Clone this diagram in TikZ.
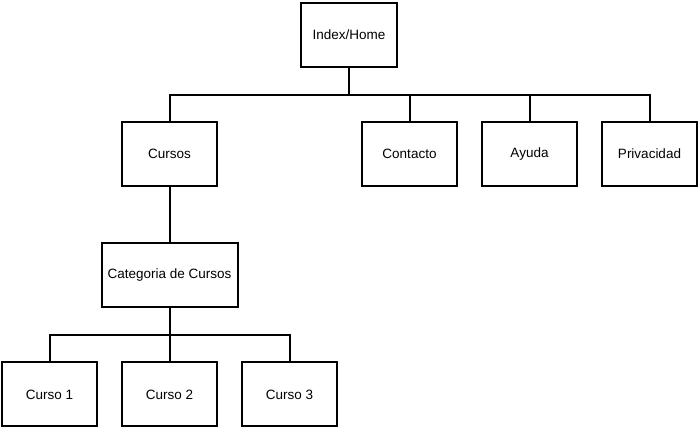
\documentclass[tikz,border=0pt]{standalone}
\usepackage{fontspec}
\setmainfont{Liberation Sans}
\begin{document}
\begin{tikzpicture}[x=1pt,y=1pt,
    pagebox/.style={draw=black, line width=2pt, minimum width=95pt, minimum height=64pt, font=\fontsize{13.5}{15}\selectfont, inner sep=0pt},
    link/.style={line width=2pt}]
      \useasboundingbox (0,0) rectangle (700,430);
      % nodes
      \node[pagebox, minimum width=96pt] (home) at (349,395) {Index/Home};
      \node[pagebox] (cursos) at (169.5,276) {Cursos};
      \node[pagebox] (contacto) at (409.5,276) {Contacto};
      \node[pagebox] (ayuda) at (529.5,276) {Ayuda};
      \node[pagebox] (privacidad) at (649.5,276) {Privacidad};
      \node[pagebox, minimum width=136pt] (categoria) at (169.5,155) {Categoria de Cursos};
      \node[pagebox] (curso1) at (49.5,35.5) {Curso 1};
      \node[pagebox] (curso2) at (169.5,35.5) {Curso 2};
      \node[pagebox] (curso3) at (289.5,35.5) {Curso 3};
      % connectors
      \coordinate (bartop) at (349,335);
      \coordinate (barlow) at (169.5,95);
      \draw[link] (home.south) -- (bartop);
      \foreach \n in {cursos,contacto,ayuda,privacidad}
        \draw[link] (\n.north) |- (bartop);
      \draw[link] (cursos.south) -- (categoria.north);
      \draw[link] (categoria.south) -- (barlow);
      \foreach \n in {curso1,curso2,curso3}
        \draw[link] (\n.north) |- (barlow);
    \end{tikzpicture}
\end{document}
